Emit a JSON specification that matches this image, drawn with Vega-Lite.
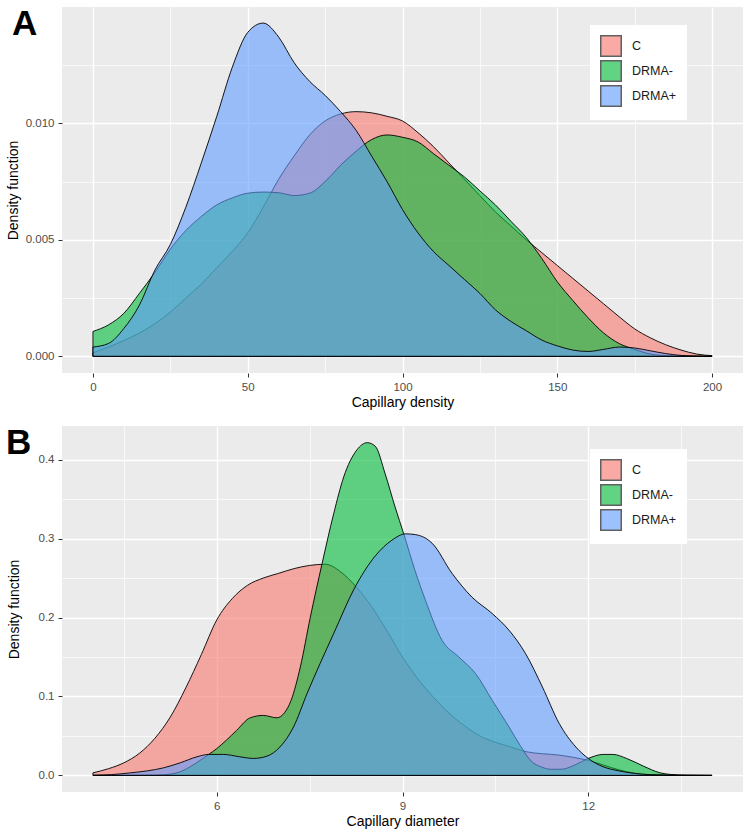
{
  "$schema": "https://vega.github.io/schema/vega-lite/v6.json",
  "padding": {"left": 6, "top": 7, "right": 7, "bottom": 5},
  "spacing": 16,
  "config": {
    "font": "Liberation Sans",
    "view": {"fill": "#EBEBEB", "stroke": null},
    "axis": {"domain": false, "labelColor": "#4D4D4D", "labelFontSize": 11.5, "tickColor": "#333333", "tickSize": 4, "tickWidth": 1, "labelPadding": 4, "titleFontSize": 14, "titleFontWeight": "normal", "titleColor": "#000000", "gridColor": "#FFFFFF"},
    "axisY": {"minExtent": 36, "titlePadding": 5},
    "axisX": {"titlePadding": 3},
    "legend": {"orient": "none", "fillColor": "#FFFFFF", "padding": 10, "symbolType": "square", "symbolSize": 420, "symbolStrokeColor": "#000000", "symbolStrokeWidth": 1.5, "symbolOpacity": 0.62, "labelFontSize": 12.5, "labelColor": "#1A1A1A", "labelOffset": 10, "rowPadding": -4}
  },
  "resolve": {"legend": {"color": "independent"}},
  "datasets": {
    "a": [
      {"g":"C","x":0,"y":0.00015},{"g":"C","x":5,"y":0.0004},{"g":"C","x":10,"y":0.00068},{"g":"C","x":15,"y":0.001},{"g":"C","x":20,"y":0.0014},{"g":"C","x":25,"y":0.0019},{"g":"C","x":30,"y":0.0025},{"g":"C","x":35,"y":0.0031},{"g":"C","x":40,"y":0.0038},{"g":"C","x":45,"y":0.0045},{"g":"C","x":50,"y":0.0053},{"g":"C","x":55,"y":0.0064},{"g":"C","x":60,"y":0.0076},{"g":"C","x":65,"y":0.0086},{"g":"C","x":70,"y":0.0095},{"g":"C","x":75,"y":0.0101},{"g":"C","x":80,"y":0.0104},{"g":"C","x":85,"y":0.0105},{"g":"C","x":90,"y":0.01045},{"g":"C","x":95,"y":0.0103},{"g":"C","x":100,"y":0.0101},{"g":"C","x":105,"y":0.0096},{"g":"C","x":110,"y":0.009},{"g":"C","x":115,"y":0.0083},{"g":"C","x":120,"y":0.0076},{"g":"C","x":125,"y":0.0069},{"g":"C","x":130,"y":0.0062},{"g":"C","x":135,"y":0.0056},{"g":"C","x":140,"y":0.005},{"g":"C","x":145,"y":0.00445},{"g":"C","x":150,"y":0.0039},{"g":"C","x":155,"y":0.00335},{"g":"C","x":160,"y":0.0028},{"g":"C","x":165,"y":0.00225},{"g":"C","x":170,"y":0.0017},{"g":"C","x":175,"y":0.00118},{"g":"C","x":180,"y":0.0008},{"g":"C","x":185,"y":0.0005},{"g":"C","x":190,"y":0.00027},{"g":"C","x":195,"y":0.0001},{"g":"C","x":200,"y":0.00003},
      {"g":"DRMA-","x":0,"y":0.00107},{"g":"DRMA-","x":5,"y":0.00135},{"g":"DRMA-","x":10,"y":0.00185},{"g":"DRMA-","x":15,"y":0.0027},{"g":"DRMA-","x":20,"y":0.0036},{"g":"DRMA-","x":25,"y":0.0046},{"g":"DRMA-","x":30,"y":0.0054},{"g":"DRMA-","x":35,"y":0.006},{"g":"DRMA-","x":40,"y":0.0065},{"g":"DRMA-","x":45,"y":0.0068},{"g":"DRMA-","x":50,"y":0.007},{"g":"DRMA-","x":55,"y":0.00705},{"g":"DRMA-","x":60,"y":0.00702},{"g":"DRMA-","x":65,"y":0.0069},{"g":"DRMA-","x":70,"y":0.007},{"g":"DRMA-","x":75,"y":0.0075},{"g":"DRMA-","x":80,"y":0.0082},{"g":"DRMA-","x":85,"y":0.0088},{"g":"DRMA-","x":90,"y":0.0093},{"g":"DRMA-","x":95,"y":0.0095},{"g":"DRMA-","x":100,"y":0.0094},{"g":"DRMA-","x":105,"y":0.0092},{"g":"DRMA-","x":110,"y":0.0087},{"g":"DRMA-","x":115,"y":0.0082},{"g":"DRMA-","x":120,"y":0.0077},{"g":"DRMA-","x":125,"y":0.0071},{"g":"DRMA-","x":130,"y":0.0065},{"g":"DRMA-","x":135,"y":0.0058},{"g":"DRMA-","x":140,"y":0.0051},{"g":"DRMA-","x":145,"y":0.0042},{"g":"DRMA-","x":150,"y":0.0032},{"g":"DRMA-","x":155,"y":0.0024},{"g":"DRMA-","x":160,"y":0.00165},{"g":"DRMA-","x":165,"y":0.001},{"g":"DRMA-","x":170,"y":0.00055},{"g":"DRMA-","x":175,"y":0.0003},{"g":"DRMA-","x":180,"y":0.0001},{"g":"DRMA-","x":185,"y":0.00003},{"g":"DRMA-","x":190,"y":0.00001},{"g":"DRMA-","x":200,"y":0},
      {"g":"DRMA+","x":0,"y":0.0004},{"g":"DRMA+","x":5,"y":0.00055},{"g":"DRMA+","x":10,"y":0.0012},{"g":"DRMA+","x":15,"y":0.0022},{"g":"DRMA+","x":20,"y":0.0037},{"g":"DRMA+","x":25,"y":0.0048},{"g":"DRMA+","x":30,"y":0.0064},{"g":"DRMA+","x":35,"y":0.0083},{"g":"DRMA+","x":40,"y":0.0103},{"g":"DRMA+","x":45,"y":0.0124},{"g":"DRMA+","x":50,"y":0.0139},{"g":"DRMA+","x":55,"y":0.0143},{"g":"DRMA+","x":60,"y":0.0137},{"g":"DRMA+","x":65,"y":0.0126},{"g":"DRMA+","x":70,"y":0.0118},{"g":"DRMA+","x":75,"y":0.0112},{"g":"DRMA+","x":80,"y":0.0105},{"g":"DRMA+","x":85,"y":0.0097},{"g":"DRMA+","x":90,"y":0.0086},{"g":"DRMA+","x":95,"y":0.0075},{"g":"DRMA+","x":100,"y":0.0063},{"g":"DRMA+","x":105,"y":0.0053},{"g":"DRMA+","x":110,"y":0.0045},{"g":"DRMA+","x":115,"y":0.0039},{"g":"DRMA+","x":120,"y":0.0033},{"g":"DRMA+","x":125,"y":0.0027},{"g":"DRMA+","x":130,"y":0.002},{"g":"DRMA+","x":135,"y":0.0015},{"g":"DRMA+","x":140,"y":0.0011},{"g":"DRMA+","x":145,"y":0.0007},{"g":"DRMA+","x":150,"y":0.00045},{"g":"DRMA+","x":155,"y":0.00027},{"g":"DRMA+","x":160,"y":0.00021},{"g":"DRMA+","x":165,"y":0.0003},{"g":"DRMA+","x":170,"y":0.0004},{"g":"DRMA+","x":175,"y":0.00036},{"g":"DRMA+","x":180,"y":0.00024},{"g":"DRMA+","x":185,"y":0.00012},{"g":"DRMA+","x":190,"y":0.00004},{"g":"DRMA+","x":195,"y":0.00001},{"g":"DRMA+","x":200,"y":0}
    ],
    "b": [
      {"g":"C","x":4,"y":0.0033},{"g":"C","x":4.25,"y":0.0085},{"g":"C","x":4.5,"y":0.016},{"g":"C","x":4.75,"y":0.028},{"g":"C","x":5,"y":0.047},{"g":"C","x":5.25,"y":0.074},{"g":"C","x":5.5,"y":0.111},{"g":"C","x":5.75,"y":0.153},{"g":"C","x":6,"y":0.197},{"g":"C","x":6.25,"y":0.224},{"g":"C","x":6.5,"y":0.241},{"g":"C","x":6.75,"y":0.25},{"g":"C","x":7,"y":0.256},{"g":"C","x":7.25,"y":0.262},{"g":"C","x":7.5,"y":0.266},{"g":"C","x":7.75,"y":0.2675},{"g":"C","x":8,"y":0.258},{"g":"C","x":8.25,"y":0.239},{"g":"C","x":8.5,"y":0.214},{"g":"C","x":8.75,"y":0.183},{"g":"C","x":9,"y":0.15},{"g":"C","x":9.25,"y":0.122},{"g":"C","x":9.5,"y":0.099},{"g":"C","x":9.75,"y":0.079},{"g":"C","x":10,"y":0.063},{"g":"C","x":10.25,"y":0.05},{"g":"C","x":10.5,"y":0.042},{"g":"C","x":10.75,"y":0.036},{"g":"C","x":11,"y":0.03},{"g":"C","x":11.25,"y":0.0275},{"g":"C","x":11.5,"y":0.026},{"g":"C","x":11.75,"y":0.023},{"g":"C","x":12,"y":0.019},{"g":"C","x":12.25,"y":0.013},{"g":"C","x":12.5,"y":0.007},{"g":"C","x":12.75,"y":0.0028},{"g":"C","x":13,"y":0.0009},{"g":"C","x":13.5,"y":0.0001},{"g":"C","x":14,"y":0},
      {"g":"DRMA-","x":4,"y":0},{"g":"DRMA-","x":4.5,"y":0.0001},{"g":"DRMA-","x":5,"y":0.0004},{"g":"DRMA-","x":5.14,"y":0.0008},{"g":"DRMA-","x":5.41,"y":0.0046},{"g":"DRMA-","x":5.57,"y":0.011},{"g":"DRMA-","x":5.73,"y":0.019},{"g":"DRMA-","x":5.87,"y":0.0266},{"g":"DRMA-","x":6,"y":0.034},{"g":"DRMA-","x":6.16,"y":0.045},{"g":"DRMA-","x":6.32,"y":0.057},{"g":"DRMA-","x":6.54,"y":0.073},{"g":"DRMA-","x":6.75,"y":0.076},{"g":"DRMA-","x":6.97,"y":0.073},{"g":"DRMA-","x":7.1,"y":0.08},{"g":"DRMA-","x":7.2,"y":0.095},{"g":"DRMA-","x":7.35,"y":0.1375},{"g":"DRMA-","x":7.51,"y":0.2},{"g":"DRMA-","x":7.7,"y":0.268},{"g":"DRMA-","x":7.89,"y":0.332},{"g":"DRMA-","x":8.05,"y":0.378},{"g":"DRMA-","x":8.26,"y":0.412},{"g":"DRMA-","x":8.43,"y":0.4215},{"g":"DRMA-","x":8.56,"y":0.417},{"g":"DRMA-","x":8.72,"y":0.382},{"g":"DRMA-","x":8.88,"y":0.34},{"g":"DRMA-","x":9.02,"y":0.306},{"g":"DRMA-","x":9.2,"y":0.26},{"g":"DRMA-","x":9.37,"y":0.222},{"g":"DRMA-","x":9.64,"y":0.171},{"g":"DRMA-","x":9.91,"y":0.15},{"g":"DRMA-","x":10.18,"y":0.129},{"g":"DRMA-","x":10.45,"y":0.095},{"g":"DRMA-","x":10.72,"y":0.0615},{"g":"DRMA-","x":10.9,"y":0.038},{"g":"DRMA-","x":11.08,"y":0.018},{"g":"DRMA-","x":11.25,"y":0.0105},{"g":"DRMA-","x":11.4,"y":0.0078},{"g":"DRMA-","x":11.56,"y":0.0078},{"g":"DRMA-","x":11.78,"y":0.013},{"g":"DRMA-","x":12,"y":0.0215},{"g":"DRMA-","x":12.24,"y":0.0266},{"g":"DRMA-","x":12.4,"y":0.0266},{"g":"DRMA-","x":12.62,"y":0.0215},{"g":"DRMA-","x":12.89,"y":0.0118},{"g":"DRMA-","x":13.16,"y":0.0033},{"g":"DRMA-","x":13.32,"y":0.0013},{"g":"DRMA-","x":13.6,"y":0.0002},{"g":"DRMA-","x":14,"y":0},
      {"g":"DRMA+","x":4,"y":0.0002},{"g":"DRMA+","x":4.3,"y":0.001},{"g":"DRMA+","x":4.61,"y":0.0033},{"g":"DRMA+","x":4.88,"y":0.0058},{"g":"DRMA+","x":5.14,"y":0.0096},{"g":"DRMA+","x":5.41,"y":0.016},{"g":"DRMA+","x":5.68,"y":0.0236},{"g":"DRMA+","x":5.87,"y":0.0266},{"g":"DRMA+","x":6.11,"y":0.0266},{"g":"DRMA+","x":6.37,"y":0.0236},{"g":"DRMA+","x":6.59,"y":0.0215},{"g":"DRMA+","x":6.81,"y":0.0244},{"g":"DRMA+","x":7.02,"y":0.036},{"g":"DRMA+","x":7.24,"y":0.0615},{"g":"DRMA+","x":7.46,"y":0.104},{"g":"DRMA+","x":7.67,"y":0.142},{"g":"DRMA+","x":7.89,"y":0.18},{"g":"DRMA+","x":8.21,"y":0.235},{"g":"DRMA+","x":8.56,"y":0.278},{"g":"DRMA+","x":8.83,"y":0.298},{"g":"DRMA+","x":9.05,"y":0.306},{"g":"DRMA+","x":9.21,"y":0.305},{"g":"DRMA+","x":9.48,"y":0.294},{"g":"DRMA+","x":9.8,"y":0.256},{"g":"DRMA+","x":10.12,"y":0.226},{"g":"DRMA+","x":10.45,"y":0.205},{"g":"DRMA+","x":10.72,"y":0.184},{"g":"DRMA+","x":10.99,"y":0.154},{"g":"DRMA+","x":11.26,"y":0.112},{"g":"DRMA+","x":11.53,"y":0.066},{"g":"DRMA+","x":11.8,"y":0.036},{"g":"DRMA+","x":12,"y":0.0215},{"g":"DRMA+","x":12.24,"y":0.011},{"g":"DRMA+","x":12.48,"y":0.006},{"g":"DRMA+","x":12.75,"y":0.0025},{"g":"DRMA+","x":13,"y":0.001},{"g":"DRMA+","x":13.5,"y":0.0002},{"g":"DRMA+","x":14,"y":0}
    ]
  },
  "vconcat": [
    {
      "width": 681,
      "height": 366,
      "title": {"text": "A", "anchor": "start", "frame": "group", "orient": "top", "fontSize": 35, "fontWeight": "bold", "font": "Liberation Sans", "color": "#000000", "baseline": "top", "offset": -35, "dx": -50},
      "data": {"name": "a"},
      "mark": {"type": "area", "interpolate": "monotone", "fillOpacity": 0.6, "stroke": "#000000", "strokeWidth": 0.9},
      "encoding": {
        "x": {"field": "x", "type": "quantitative", "title": "Capillary density",
              "scale": {"domain": [-10, 210], "nice": false, "zero": false},
              "axis": {"values": [0, 25, 50, 75, 100, 125, 150, 175, 200], "grid": true,
                       "labelExpr": "datum.value % 50 === 0 ? datum.label : ''",
                       "gridWidth": {"condition": {"test": "datum.value % 50 === 0", "value": 1.4}, "value": 0.7},
                       "tickOpacity": {"condition": {"test": "datum.value % 50 === 0", "value": 1}, "value": 0}}},
        "y": {"field": "y", "type": "quantitative", "title": "Density function",
              "scale": {"domain": [-0.000714, 0.01499], "nice": false, "zero": false},
              "axis": {"values": [0, 0.0025, 0.005, 0.0075, 0.01, 0.0125], "format": ".3f", "grid": true,
                       "labelExpr": "abs(datum.value * 200 - round(datum.value * 200)) < 0.000001 ? datum.label : ''",
                       "gridWidth": {"condition": {"test": "abs(datum.value * 200 - round(datum.value * 200)) < 0.000001", "value": 1.4}, "value": 0.7},
                       "tickOpacity": {"condition": {"test": "abs(datum.value * 200 - round(datum.value * 200)) < 0.000001", "value": 1}, "value": 0}}},
        "y2": {"datum": 0},
        "color": {"field": "g", "type": "nominal", "title": null,
                  "scale": {"domain": ["C", "DRMA-", "DRMA+"], "range": ["#F8766D", "#00BA38", "#619CFF"]},
                  "legend": {"orient": "none", "legendX": 528, "legendY": 18}}
      }
    },
    {
      "width": 681,
      "height": 366,
      "title": {"text": "B", "anchor": "start", "frame": "group", "orient": "top", "fontSize": 35, "fontWeight": "bold", "font": "Liberation Sans", "color": "#000000", "baseline": "top", "offset": -35, "dx": -56},
      "data": {"name": "b"},
      "mark": {"type": "area", "interpolate": "monotone", "fillOpacity": 0.6, "stroke": "#000000", "strokeWidth": 0.9},
      "encoding": {
        "x": {"field": "x", "type": "quantitative", "title": "Capillary diameter",
              "scale": {"domain": [3.5, 14.5], "nice": false, "zero": false},
              "axis": {"values": [4.5, 6, 7.5, 9, 10.5, 12, 13.5], "grid": true,
                       "labelExpr": "datum.value % 3 === 0 ? datum.label : ''",
                       "gridWidth": {"condition": {"test": "datum.value % 3 === 0", "value": 1.4}, "value": 0.7},
                       "tickOpacity": {"condition": {"test": "datum.value % 3 === 0", "value": 1}, "value": 0}}},
        "y": {"field": "y", "type": "quantitative", "title": "Density function",
              "scale": {"domain": [-0.021, 0.4426], "nice": false, "zero": false},
              "axis": {"values": [0, 0.05, 0.1, 0.15, 0.2, 0.25, 0.3, 0.35, 0.4], "format": ".1f", "grid": true,
                       "labelExpr": "abs(datum.value * 10 - round(datum.value * 10)) < 0.000001 ? datum.label : ''",
                       "gridWidth": {"condition": {"test": "abs(datum.value * 10 - round(datum.value * 10)) < 0.000001", "value": 1.4}, "value": 0.7},
                       "tickOpacity": {"condition": {"test": "abs(datum.value * 10 - round(datum.value * 10)) < 0.000001", "value": 1}, "value": 0}}},
        "y2": {"datum": 0},
        "color": {"field": "g", "type": "nominal", "title": null,
                  "scale": {"domain": ["C", "DRMA-", "DRMA+"], "range": ["#F8766D", "#00BA38", "#619CFF"]},
                  "legend": {"orient": "none", "legendX": 528, "legendY": 23}}
      }
    }
  ]
}
